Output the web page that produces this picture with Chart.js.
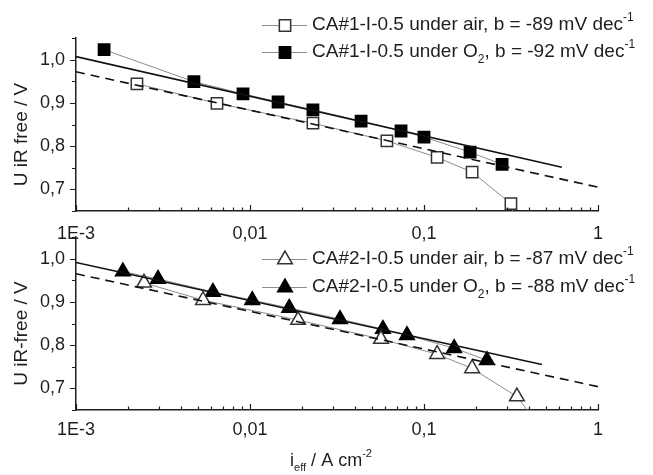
<!DOCTYPE html>
<html>
<head>
<meta charset="utf-8">
<script src="https://cdn.jsdelivr.net/npm/chart.js@4.4.0/dist/chart.umd.min.js"></script>
<style>
  html, body { margin: 0; padding: 0; background: #fff; }
  #wrap { position: relative; width: 653px; height: 475px; }
  canvas { position: absolute; left: 0; }
  #cTop { top: 0; }
  #cBot { top: 212px; }
</style>
</head>
<body>
<div id="wrap">
  <canvas id="cTop" width="653" height="245" style="width:653px;height:245px"></canvas>
  <canvas id="cBot" width="653" height="263" style="width:653px;height:263px"></canvas>
</div>
<script>
// axis ticks
const xTickValues = [0.001, 0.01, 0.1, 1];
const xTickLabels = ['1E-3', '0,01', '0,1', '1'];
const yTickValues = [0.7, 0.8, 0.9, 1.0];
const yTickLabels = ['0,7', '0,8', '0,9', '1,0'];
const yMinorValues = [0.65, 0.75, 0.85, 0.95, 1.05];

// top panel: CA#1-I-0.5
const ca1AirI = [0.00224, 0.00646, 0.0230, 0.0612, 0.119, 0.189, 0.316, 0.376];
const ca1AirU = [0.944, 0.899, 0.853, 0.812, 0.774, 0.740, 0.667, 0.55];
const ca1O2I = [0.00145, 0.00476, 0.00912, 0.0145, 0.0230, 0.0435, 0.0738, 0.100, 0.184, 0.281];
const ca1O2U = [1.023, 0.949, 0.921, 0.902, 0.884, 0.858, 0.835, 0.821, 0.786, 0.758];
const ca1AirFitI = [0.001, 1];
const ca1AirFitU = [0.972, 0.705];
const ca1O2FitI = [0.001, 0.62];
const ca1O2FitU = [1.007, 0.751];
const ca1Labels = ['CA#1-I-0.5 under air, b = -89 mV dec^{-1}', 'CA#1-I-0.5 under O_{2}, b = -92 mV dec^{-1}'];

// bottom panel: CA#2-I-0.5
const ca2AirI = [0.00246, 0.00537, 0.0189, 0.0566, 0.119, 0.189, 0.342, 0.605];
const ca2AirU = [0.944, 0.904, 0.858, 0.814, 0.779, 0.746, 0.681, 0.55];
const ca2O2I = [0.00186, 0.00296, 0.00612, 0.0103, 0.0168, 0.0329, 0.0581, 0.0798, 0.149, 0.230];
const ca2O2U = [0.970, 0.953, 0.923, 0.904, 0.886, 0.860, 0.837, 0.823, 0.793, 0.765];
const ca2AirFitI = [0.001, 1];
const ca2AirFitU = [0.965, 0.704];
const ca2O2FitI = [0.001, 0.476];
const ca2O2FitU = [0.991, 0.755];
const ca2Labels = ['CA#2-I-0.5 under air, b = -87 mV dec^{-1}', 'CA#2-I-0.5 under O_{2}, b = -88 mV dec^{-1}'];

const FONT = '"Liberation Sans", Arial, Helvetica, sans-serif';
const INK = '#1e1e1e';

function pts(xs, ys) {
  return xs.map((x, i) => ({ x: x, y: ys[i] }));
}

// every 1..9 x decade, for the minor tick marks
const xAllTicks = [];
[0.001, 0.01, 0.1].forEach(d => {
  for (let m = 1; m < 10; m++) xAllTicks.push(m === 1 ? d : +(m * d).toPrecision(3));
});
xAllTicks.push(1);
const yAllTicks = yMinorValues.concat(yTickValues).sort((a, b) => a - b);

// split "text_{sub}^{sup}" into pieces
function pieces(str) {
  return str.split(/(_\{[^}]*\}|\^\{[^}]*\})/).filter(s => s).map(s => {
    if (s[0] === '_') return { t: s.slice(2, -1), k: 'sub' };
    if (s[0] === '^') return { t: s.slice(2, -1), k: 'sup' };
    return { t: s, k: 'n' };
  });
}

function richText(ctx, str, x, y, size, align) {
  const parts = pieces(str);
  const small = Math.round(size * 0.62);
  let w = 0;
  parts.forEach(p => {
    ctx.font = (p.k === 'n' ? size : small) + 'px ' + FONT;
    p.w = ctx.measureText(p.t).width;
    w += p.w;
  });
  let cx = align === 'center' ? x - w / 2 : x;
  ctx.textAlign = 'left';
  ctx.textBaseline = 'middle';
  parts.forEach(p => {
    ctx.font = (p.k === 'n' ? size : small) + 'px ' + FONT;
    let dy = 0;
    if (p.k === 'sub') dy = size * 0.38;
    if (p.k === 'sup') dy = -size * 0.38;
    ctx.fillText(p.t, cx, y + dy);
    cx += p.w;
  });
}

const panelDecor = {
  id: 'panelDecor',
  afterDraw(chart, args, opts) {
    const ctx = chart.ctx;
    const xs = chart.scales.x, ys = chart.scales.y;
    const a = chart.chartArea;
    ctx.save();
    ctx.strokeStyle = INK;
    ctx.lineWidth = 1.2;
    // x ticks point inwards
    ctx.beginPath();
    xs.ticks.forEach(t => {
      const px = Math.round(xs.getPixelForValue(t.value)) + 0.5;
      const len = xTickValues.indexOf(t.value) >= 0 ? 6 : 3.5;
      ctx.moveTo(px, a.bottom);
      ctx.lineTo(px, a.bottom - len);
    });
    // y ticks point outwards
    ys.ticks.forEach(t => {
      const py = Math.round(ys.getPixelForValue(t.value)) + 0.5;
      const len = yTickValues.indexOf(t.value) >= 0 ? 6 : 4;
      ctx.moveTo(a.left, py);
      ctx.lineTo(a.left - len, py);
    });
    ctx.stroke();

    ctx.fillStyle = INK;
    // y title
    ctx.save();
    ctx.translate(opts.yTitleX, (a.top + a.bottom) / 2 + opts.yTitleShift);
    ctx.rotate(-Math.PI / 2);
    richText(ctx, opts.yTitle, 0, 0, 19, 'center');
    ctx.restore();
    // x title
    if (opts.xTitle) richText(ctx, opts.xTitle, (a.left + a.right) / 2 - 6, opts.xTitleY, 18, 'center');

    // legend inside the plot
    const lx = opts.legendX;
    chart.data.datasets.forEach(ds => {
      if (ds.legendRow === undefined) return;
      const ly = opts.legendRows[ds.legendRow];
      ctx.strokeStyle = ds.borderColor;
      ctx.lineWidth = ds.borderWidth;
      ctx.beginPath();
      ctx.moveTo(lx, ly + 0.5);
      ctx.lineTo(lx + 45, ly + 0.5);
      ctx.stroke();
      ctx.fillStyle = ds.pointBackgroundColor;
      ctx.strokeStyle = ds.pointBorderColor;
      ctx.lineWidth = ds.pointBorderWidth;
      Chart.helpers.drawPoint(ctx, {
        pointStyle: ds.pointStyle, radius: ds.pointRadius, rotation: 0, borderWidth: ds.pointBorderWidth
      }, lx + 23, ly + 0.5);
      ctx.fillStyle = INK;
      richText(ctx, ds.legendText, lx + 50, ly, 19, 'left');
    });
    ctx.restore();
  }
};

function makeDatasets(style, airI, airU, o2I, o2U, airFitI, airFitU, o2FitI, o2FitU, labels, r) {
  return [
    {
      data: pts(o2FitI, o2FitU), showLine: true, pointRadius: 0,
      borderColor: '#111', borderWidth: 1.6, order: 0
    },
    {
      data: pts(airFitI, airFitU), showLine: true, pointRadius: 0,
      borderColor: '#111', borderWidth: 1.6, borderDash: [9, 6], order: 0
    },
    {
      data: pts(airI, airU), showLine: true, borderColor: '#8c8c8c', borderWidth: 1,
      pointStyle: style, pointRadius: r, pointBackgroundColor: '#fff',
      pointBorderColor: '#333', pointBorderWidth: 1.5, order: 1,
      legendRow: 0, legendText: labels[0]
    },
    {
      data: pts(o2I, o2U), showLine: true, borderColor: '#8c8c8c', borderWidth: 1,
      pointStyle: style, pointRadius: r, pointBackgroundColor: '#000',
      pointBorderColor: '#000', pointBorderWidth: 1.5, order: 1,
      legendRow: 1, legendText: labels[1]
    }
  ];
}

function makeChart(id, datasets, pad, xHeight, xPad, decor) {
  return new Chart(document.getElementById(id), {
    type: 'scatter',
    data: { datasets: datasets },
    plugins: [panelDecor],
    options: {
      responsive: false,
      animation: false,
      devicePixelRatio: 1,
      layout: { padding: pad },
      plugins: { legend: { display: false }, tooltip: { enabled: false }, panelDecor: decor },
      scales: {
        x: {
          type: 'logarithmic', min: 0.001, max: 1,
          afterBuildTicks(s) { s.ticks = xAllTicks.map(v => ({ value: v })); },
          afterFit(s) { s.height = xHeight; },
          grid: { display: false, drawTicks: false },
          border: { display: true, color: INK, width: 1.5 },
          ticks: {
            autoSkip: false, maxRotation: 0, padding: xPad, color: INK,
            font: { family: FONT, size: 18 },
            callback(v) {
              const i = xTickValues.indexOf(v);
              return i >= 0 ? xTickLabels[i] : '';
            }
          }
        },
        y: {
          min: 0.65, max: 1.05,
          afterBuildTicks(s) { s.ticks = yAllTicks.map(v => ({ value: v })); },
          afterFit(s) { s.width = 76; },
          grid: { display: false, drawTicks: false },
          border: { display: true, color: INK, width: 1.5 },
          ticks: {
            autoSkip: false, padding: 11, color: INK,
            font: { family: FONT, size: 18 },
            callback(v) {
              const i = yTickValues.indexOf(v);
              return i >= 0 ? yTickLabels[i] : '';
            }
          }
        }
      }
    }
  });
}

makeChart('cTop',
  makeDatasets('rect', ca1AirI, ca1AirU, ca1O2I, ca1O2U, ca1AirFitI, ca1AirFitU, ca1O2FitI, ca1O2FitU, ca1Labels, 8),
  { left: 0, right: 55, top: 38, bottom: 0 }, 34, 12,
  { yTitle: 'U iR free / V', yTitleX: 22, yTitleShift: 10, legendX: 262, legendRows: [25, 52] });

makeChart('cBot',
  makeDatasets('triangle', ca2AirI, ca2AirU, ca2O2I, ca2O2U, ca2AirFitI, ca2AirFitU, ca2O2FitI, ca2O2FitU, ca2Labels, 8.5),
  { left: 0, right: 55, top: 25, bottom: 0 }, 65, 9,
  { yTitle: 'U iR-free / V', yTitleX: 22, yTitleShift: 10, legendX: 262, legendRows: [47, 75], xTitle: 'i_{eff} / A cm^{-2}', xTitleY: 249 });
</script>
</body>
</html>
